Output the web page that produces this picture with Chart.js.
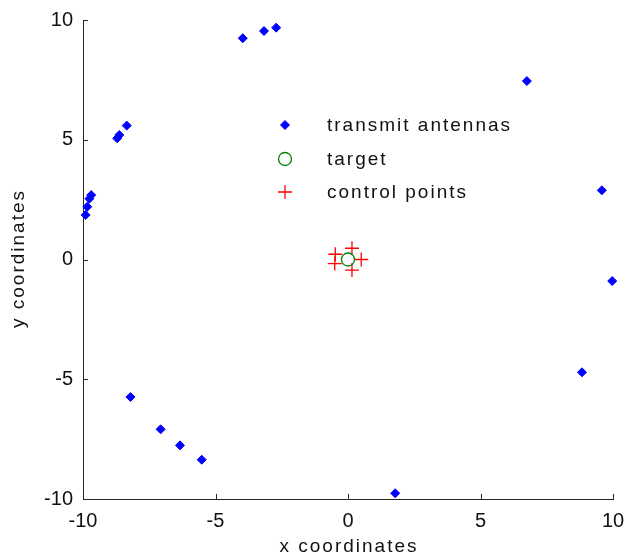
<!DOCTYPE html>
<html>
<head>
<meta charset="utf-8">
<title>Antennas and target</title>
<script src="https://cdn.jsdelivr.net/npm/chart.js@4.4.1/dist/chart.umd.min.js"></script>
<style>
    html, body { margin: 0; padding: 0; background: #fff; }
    #wrap { width: 625px; height: 559px; }
</style>
</head>
<body>
<div id="wrap"><canvas id="antenasChart"></canvas></div>
<script>
// Posiciones de las antenas transmisoras
const antenasX = [-9.90, -9.84, -9.76, -9.69, -8.71, -8.63, -8.35, -3.97, -3.17, -2.71,
                  6.75, 9.58, 9.97, 8.83, 1.78, -5.52, -6.34, -7.07, -8.21];
const antenasY = [1.86, 2.20, 2.54, 2.69, 5.06, 5.20, 5.59, 9.24, 9.54, 9.68,
                  7.45, 2.89, -0.90, -4.71, -9.76, -8.36, -7.76, -7.09, -5.74];

// Objetivo
const objetivoX = [0];
const objetivoY = [0];

// Puntos de control alrededor del objetivo
const controlX = [0.50, 0.15, -0.48, -0.50, 0.15];
const controlY = [0.00, 0.47, 0.22, -0.17, -0.44];

const etiquetas = ['transmit antennas', 'target', 'control points'];
const titulosEjes = ['x coordinates', 'y coordinates'];
const ticksEjes = [-10, -5, 0, 5, 10];

const fuente = 'Liberation Sans, Arial, sans-serif';
const colorTexto = '#111';

function puntos(xs, ys) {
    return xs.map((x, i) => ({ x: x, y: ys[i] }));
}

// Marcas de los ejes hacia dentro
const ticksInternos = {
    id: 'ticksInternos',
    afterDatasetsDraw(chart) {
        const ctx = chart.ctx;
        const area = chart.chartArea;
        ctx.save();
        ctx.strokeStyle = '#262626';
        ctx.lineWidth = 1;
        ctx.beginPath();
        ticksEjes.forEach(v => {
            const px = Math.round(chart.scales.x.getPixelForValue(v)) + 0.5;
            ctx.moveTo(px, area.bottom);
            ctx.lineTo(px, area.bottom - 5);
            const py = Math.round(chart.scales.y.getPixelForValue(v)) + 0.5;
            ctx.moveTo(area.left, py);
            ctx.lineTo(area.left + 5, py);
        });
        ctx.stroke();
        ctx.restore();
    }
};

// Títulos de los ejes con algo de espaciado entre letras
const titulos = {
    id: 'titulos',
    afterDraw(chart) {
        const ctx = chart.ctx;
        const area = chart.chartArea;
        ctx.save();
        ctx.font = '19px ' + fuente;
        ctx.letterSpacing = '2px';
        ctx.fillStyle = colorTexto;
        ctx.textAlign = 'center';
        ctx.textBaseline = 'middle';
        ctx.fillText(titulosEjes[0], (area.left + area.right) / 2 + 1, 547);
        ctx.translate(19, (area.top + area.bottom) / 2);
        ctx.rotate(-Math.PI / 2);
        ctx.fillText(titulosEjes[1], 1, 0);
        ctx.restore();
    }
};

// Leyenda dentro del área de la gráfica, sin recuadro
const leyendaInterna = {
    id: 'leyendaInterna',
    afterDraw(chart) {
        const ctx = chart.ctx;
        const area = chart.chartArea;
        const x0 = area.left + 202;
        const y0 = area.top + 105;
        chart.data.datasets.forEach((ds, i) => {
            const y = Math.round(y0 + i * 33.5);
            ctx.save();
            ctx.fillStyle = ds.backgroundColor;
            ctx.strokeStyle = ds.borderColor;
            ctx.lineWidth = ds.borderWidth;
            Chart.helpers.drawPoint(ctx, {
                pointStyle: ds.pointStyle,
                radius: ds.pointRadius,
                borderWidth: ds.borderWidth,
                rotation: 0
            }, x0, y);
            ctx.restore();

            ctx.save();
            ctx.font = '19px ' + fuente;
            ctx.letterSpacing = '2px';
            ctx.fillStyle = colorTexto;
            ctx.textBaseline = 'middle';
            ctx.fillText(ds.label, x0 + 42, y + 1);
            ctx.restore();
        });
    }
};

document.addEventListener('DOMContentLoaded', function() {
    const ctx = document.getElementById('antenasChart').getContext('2d');

    new Chart(ctx, {
        type: 'scatter',
        data: {
            datasets: [{
                label: etiquetas[0],
                data: puntos(antenasX, antenasY),
                pointStyle: 'rectRot',
                pointRadius: 4.5,
                backgroundColor: '#0000ff',
                borderColor: '#0000ff',
                borderWidth: 1,
                clip: false
            }, {
                label: etiquetas[1],
                data: puntos(objetivoX, objetivoY),
                pointStyle: 'circle',
                pointRadius: 6.5,
                backgroundColor: 'rgba(0,0,0,0)',
                borderColor: '#008000',
                borderWidth: 1.3,
                clip: false
            }, {
                label: etiquetas[2],
                data: puntos(controlX, controlY),
                pointStyle: 'cross',
                pointRadius: 7,
                backgroundColor: '#ff0000',
                borderColor: '#ff0000',
                borderWidth: 1.3,
                clip: false
            }]
        },
        options: {
            responsive: true,
            maintainAspectRatio: false,
            animation: false,
            layout: { padding: { top: 20, right: 12, left: 0, bottom: 0 } },
            plugins: {
                legend: { display: false },
                tooltip: { enabled: false }
            },
            scales: {
                x: {
                    type: 'linear',
                    min: -10,
                    max: 10,
                    afterFit: s => {
                        s.height = 60;
                        s.paddingLeft = 0;
                        s.paddingRight = 0;
                    },
                    afterBuildTicks: s => { s.ticks = ticksEjes.map(v => ({ value: v })); },
                    grid: { display: false, drawTicks: false },
                    border: { display: true, color: '#262626', width: 1 },
                    ticks: { color: colorTexto, padding: 10, font: { family: fuente, size: 20 } }
                },
                y: {
                    type: 'linear',
                    min: -10,
                    max: 10,
                    afterFit: s => {
                        s.width = 83;
                        s.paddingTop = 0;
                        s.paddingBottom = 0;
                    },
                    afterBuildTicks: s => { s.ticks = ticksEjes.map(v => ({ value: v })); },
                    grid: { display: false, drawTicks: false },
                    border: { display: true, color: '#262626', width: 1 },
                    ticks: { color: colorTexto, padding: 10, font: { family: fuente, size: 20 } }
                }
            }
        },
        plugins: [ticksInternos, titulos, leyendaInterna]
    });
});
</script>
</body>
</html>
